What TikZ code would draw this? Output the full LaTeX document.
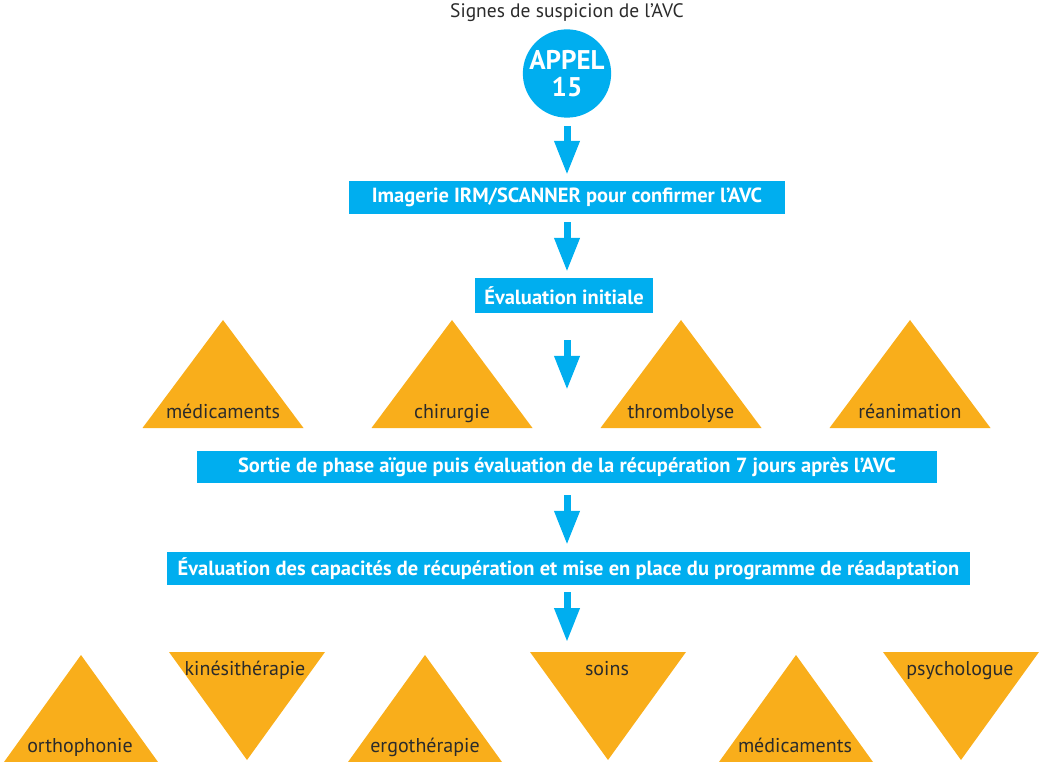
\documentclass[tikz,border=0pt]{standalone}
\usepackage{fontspec}
\setmainfont{PT Sans}
\usetikzlibrary{arrows.meta}
\definecolor{avcblue}{HTML}{00AEEF}
\definecolor{avcorange}{HTML}{F9AE1B}
\definecolor{txt}{HTML}{2B2B2B}
\begin{document}
\begin{tikzpicture}[x=1pt,y=-1pt,
  box/.style={fill=avcblue,text=white,font=\bfseries\fontsize{20.5}{22}\selectfont,inner sep=0pt,minimum height=33pt,anchor=center},
  flow/.style={draw=avcblue,line width=7pt,-{Triangle[width=24pt,length=34pt,fill=avcblue]}},
  tri/.style={fill=avcorange},
  lab/.style={text=txt,font=\fontsize{20}{22}\selectfont,inner sep=0pt,anchor=base}]
\useasboundingbox (0,0) rectangle (1061,762);

\node[lab,font=\fontsize{19.5}{22}\selectfont] (title) at (567,18) {Signes de suspicion de l’AVC};
\node[circle,fill=avcblue,minimum size=88pt,inner sep=0pt,text=white,align=center,
      font=\bfseries\fontsize{27}{27}\selectfont] (circ) at (567,73.5) {APPEL\\15};

\node[box,minimum width=436pt] (b1) at (567,197.5) {Imagerie IRM/SCANNER pour confirmer l’AVC};
\node[box,minimum width=178pt,minimum height=35pt] (b2) at (564,295.5) {Évaluation initiale};
\node[box,minimum width=740pt,minimum height=32pt] (b3) at (567,467) {Sortie de phase aïgue puis évaluation de la récupération 7 jours après l’AVC};
\node[box,minimum width=803pt] (b4) at (568.5,568.5) {Évaluation des capacités de récupération et mise en place du programme de réadaptation};
\coordinate (end5) at (567,642);

\draw[flow,shorten <=8pt,shorten >=6pt] (circ.south) -- (circ.south |- b1.north);
\draw[flow,shorten <=8pt,shorten >=6pt] (b1.south -| circ) -- (b2.north -| circ);
\draw[flow,shorten <=27pt,shorten >=61pt] (b2.south -| circ) -- (b3.north -| circ);
\draw[flow,shorten <=12pt,shorten >=7pt] (b3.south -| circ) -- (b4.north -| circ);
\draw[flow,shorten <=7pt] (b4.south -| circ) -- (end5);

% first row of triangles
\foreach \cx/\name/\t in {223/t1/médicaments,452/t2/chirurgie,681/t3/thrombolyse,910/t4/réanimation}{
  \fill[tri] (\cx-80.5,428) -- (\cx,320) -- (\cx+80.5,428) -- cycle;
  \node[lab] (\name) at (\cx,418) {\t};
}

% bottom row, upward
\foreach \cx/\lx/\name/\t in {81/80/u1/orthophonie,425/425/u2/ergothérapie,796/795/u3/médicaments}{
  \fill[tri] (\cx-77,762) -- (\cx,655) -- (\cx+77,762) -- cycle;
  \node[lab] (\name) at (\lx,752) {\t};
}
% bottom row, downward
\foreach \cx/\lx/\name/\t in {247/245/d1/kinésithérapie,608/607/d2/soins,961/960/d3/psychologue}{
  \fill[tri] (\cx-78,652) -- (\cx,760) -- (\cx+78,652) -- cycle;
  \node[lab] (\name) at (\lx,675.5) {\t};
}
\end{tikzpicture}
\end{document}
